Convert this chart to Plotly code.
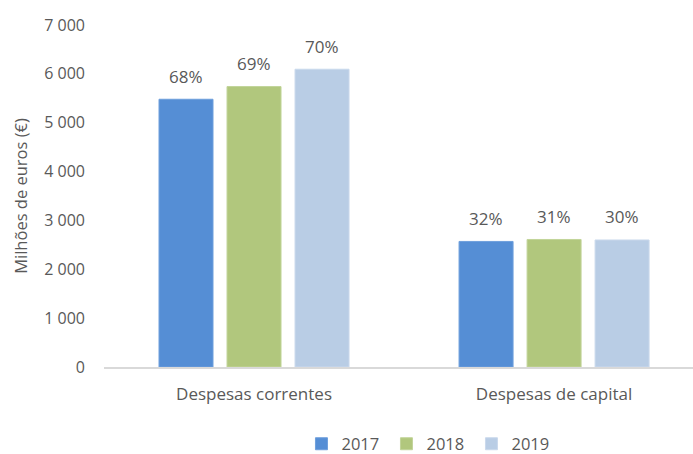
import plotly.graph_objects as go

# Despesas por tipo (milhões de euros)
categorias = ["Despesas correntes", "Despesas de capital"]
anos = ["2017", "2018", "2019"]
valores = {
    "2017": [5480, 2570],
    "2018": [5740, 2610],
    "2019": [6095, 2600],
}
cores = {"2017": "#558ED5", "2018": "#B1C77D", "2019": "#B9CDE5"}
bordas = {"2017": "#6E9FDC", "2018": "#C2D49A", "2019": "#CAD9EC"}

y_ticks = [0, 1000, 2000, 3000, 4000, 5000, 6000, 7000]
y_ticktext = ["0", "1 000", "2 000", "3 000", "4 000", "5 000", "6 000", "7 000"]

font_family = "Open Sans, Noto Sans, sans-serif"
cinza = "#595959"

fig = go.Figure()
for ano in anos:
    fig.add_trace(go.Bar(
        name=ano,
        x=categorias,
        y=valores[ano],
        marker=dict(color=cores[ano], line=dict(color=bordas[ano], width=1)),
    ))

# Peso de cada ano no total anual, escrito por cima das barras
offsets = {"2017": -1, "2018": 0, "2019": 1}
slot = (1 - 0.32) / 3
for ano in anos:
    total = sum(valores[ano])
    for i, cat in enumerate(categorias):
        pct = round(100 * valores[ano][i] / total)
        fig.add_annotation(
            x=i + offsets[ano] * slot, y=valores[ano][i],
            xref="x", yref="y",
            text=f"{pct}%", showarrow=False,
            yanchor="middle", yshift=23,
            font=dict(family=font_family, size=17, color=cinza),
        )

fig.update_layout(
    width=693, height=454,
    margin=dict(l=104, r=0, t=25, b=87),
    paper_bgcolor="white", plot_bgcolor="white",
    barmode="group", bargap=0.32, bargroupgap=0.206,
    font=dict(family=font_family, color=cinza),
    showlegend=True,
    legend=dict(
        orientation="h", xref="container", yref="container",
        x=0.435, xanchor="left", y=0.022, yanchor="middle",
        font=dict(size=16.5, color=cinza), itemwidth=30,
        entrywidth=40, entrywidthmode="pixels",
        traceorder="normal", tracegroupgap=0,
    ),
    xaxis=dict(
        range=[-0.5, 1.463], showline=True, linecolor="#D9D9D9", linewidth=1.5,
        showgrid=False, ticks="", tickfont=dict(size=17, color=cinza),
        ticklabelstandoff=11, automargin=False,
    ),
    yaxis=dict(
        range=[0, 7000], tickvals=y_ticks, ticktext=y_ticktext,
        showgrid=False, zeroline=False, showline=False, ticks="",
        tickfont=dict(size=16, color=cinza), ticklabelstandoff=18,
        title=dict(text="Milhões de euros (€)", font=dict(size=16.5, color=cinza), standoff=12),
        automargin=False,
    ),
)

fig.write_html("out.html")
